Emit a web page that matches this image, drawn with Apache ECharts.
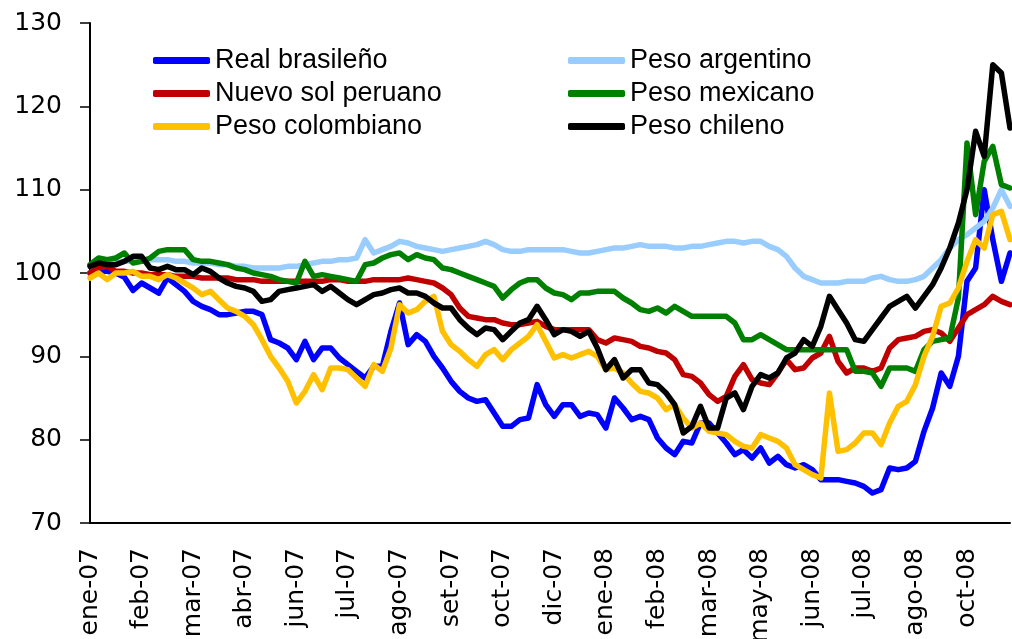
<!DOCTYPE html>
<html>
<head>
<meta charset="utf-8">
<script src="https://cdn.jsdelivr.net/npm/echarts@6/dist/echarts.min.js"></script>
<style>
html, body { margin: 0; padding: 0; background: #fff; }
#main { width: 1012px; height: 639px; }
</style>
</head>
<body>
<div id="main"></div>
<script>
// etiquetas del eje x (una cada 6 observaciones)
var monthLabels = ['ene-07', 'feb-07', 'mar-07', 'abr-07', 'jun-07', 'jul-07', 'ago-07', 'set-07', 'oct-07',
	'dic-07', 'ene-08', 'feb-08', 'mar-08', 'may-08', 'jun-08', 'jul-08', 'ago-08', 'oct-08'];
var pointsPerLabel = 6;

var realBrasileno = [
	100.0, 100.2, 100.2, 100.0, 99.5, 97.9, 98.8, 98.2, 97.6, 99.4, 98.6, 97.8, 96.6, 96.0, 95.6, 95.0, 95.0, 95.2, 95.4, 95.4,
	95.0, 92.0, 91.6, 91.0, 89.6, 91.8, 89.6, 91.0, 91.0, 89.8, 89.0, 88.2, 87.4, 88.8, 88.8, 93.0, 96.4, 91.4, 92.6, 91.8,
	90.0, 88.6, 87.0, 85.8, 85.0, 84.6, 84.8, 83.2, 81.6, 81.6, 82.4, 82.6, 86.6, 84.2, 82.8, 84.2, 84.2, 82.8, 83.2, 83.0,
	81.4, 85.0, 83.8, 82.4, 82.8, 82.4, 80.2, 79.0, 78.2, 79.8, 79.6, 82.0, 82.0, 80.8, 79.6, 78.2, 78.8, 77.8, 79.0, 77.2,
	78.0, 77.0, 76.6, 77.0, 76.4, 75.2, 75.2, 75.2, 75.0, 74.8, 74.4, 73.6, 74.0, 76.6, 76.4, 76.6, 77.4, 81.0, 83.8, 88.0,
	86.4, 90.0, 99.0, 100.6, 110.0, 104.0, 99.0, 102.4
];
var pesoArgentino = [
	100.0, 100.6, 101.0, 101.2, 101.4, 101.4, 101.6, 101.6, 101.6, 101.6, 101.4, 101.4, 101.2, 101.2, 101.2, 101.0, 101.0, 100.8, 100.8, 100.6,
	100.6, 100.6, 100.6, 100.8, 100.8, 101.0, 101.2, 101.4, 101.4, 101.6, 101.6, 101.8, 104.0, 102.4, 102.8, 103.2, 103.8, 103.6, 103.2, 103.0,
	102.8, 102.6, 102.8, 103.0, 103.2, 103.4, 103.8, 103.4, 102.8, 102.6, 102.6, 102.8, 102.8, 102.8, 102.8, 102.8, 102.6, 102.4, 102.4, 102.6,
	102.8, 103.0, 103.0, 103.2, 103.4, 103.2, 103.2, 103.2, 103.0, 103.0, 103.2, 103.2, 103.4, 103.6, 103.8, 103.8, 103.6, 103.8, 103.8, 103.2,
	102.8, 102.0, 100.6, 99.6, 99.2, 98.8, 98.8, 98.8, 99.0, 99.0, 99.0, 99.4, 99.6, 99.2, 99.0, 99.0, 99.2, 99.6, 100.6, 101.6,
	103.0, 104.0, 104.6, 105.4, 106.2, 107.8, 110.0, 108.0
];
var nuevoSol = [
	100.0, 100.6, 100.8, 100.2, 100.2, 100.0, 100.0, 99.8, 99.8, 99.8, 99.6, 99.6, 99.6, 99.4, 99.4, 99.4, 99.4, 99.2, 99.2, 99.2,
	99.0, 99.0, 99.0, 99.0, 99.0, 99.0, 99.0, 99.0, 99.2, 99.2, 99.0, 99.0, 99.0, 99.2, 99.2, 99.2, 99.2, 99.4, 99.2, 99.0,
	98.8, 98.2, 97.4, 95.8, 94.8, 94.6, 94.4, 94.4, 94.0, 93.8, 93.8, 94.0, 94.2, 93.6, 93.2, 93.2, 93.2, 93.2, 93.2, 92.0,
	91.6, 92.2, 92.0, 91.8, 91.2, 91.0, 90.6, 90.4, 89.6, 87.8, 87.6, 86.8, 85.4, 84.6, 85.2, 87.6, 89.0, 87.2, 86.8, 86.6,
	88.0, 89.6, 88.4, 88.6, 89.8, 90.4, 92.4, 89.4, 88.0, 88.6, 88.6, 88.2, 88.6, 91.0, 92.0, 92.2, 92.4, 93.0, 93.2, 92.8,
	91.8, 93.4, 95.0, 95.6, 96.2, 97.2, 96.6, 96.2
];
var pesoMexicano = [
	101.0, 101.8, 101.6, 101.8, 102.4, 101.2, 101.4, 101.8, 102.6, 102.8, 102.8, 102.8, 101.6, 101.4, 101.4, 101.2, 101.0, 100.6, 100.4, 100.0,
	99.8, 99.6, 99.2, 99.0, 98.8, 101.4, 99.6, 99.8, 99.6, 99.4, 99.2, 99.0, 101.0, 101.2, 101.8, 102.2, 102.4, 101.6, 102.2, 101.8,
	101.6, 100.6, 100.4, 100.0, 99.6, 99.2, 98.8, 98.4, 97.0, 98.0, 98.8, 99.2, 99.2, 98.2, 97.6, 97.4, 96.8, 97.6, 97.6, 97.8,
	97.8, 97.8, 97.0, 96.4, 95.6, 95.4, 95.8, 95.2, 96.0, 95.4, 94.8, 94.8, 94.8, 94.8, 94.8, 94.0, 92.0, 92.0, 92.6, 92.0,
	91.4, 90.8, 90.8, 90.8, 90.8, 90.8, 90.8, 90.8, 90.8, 88.2, 88.2, 88.0, 86.4, 88.6, 88.6, 88.6, 88.2, 90.8, 91.8, 92.0,
	92.2, 97.0, 115.6, 107.0, 113.4, 115.2, 110.6, 110.2
];
var pesoColombiano = [
	99.4, 100.0, 99.2, 100.0, 100.0, 100.2, 99.6, 99.6, 99.2, 99.8, 99.4, 98.8, 98.2, 97.4, 97.8, 96.8, 95.8, 95.4, 94.8, 93.8,
	92.0, 90.0, 88.6, 87.0, 84.4, 85.8, 87.8, 86.0, 88.6, 88.6, 88.4, 87.4, 86.4, 89.0, 88.2, 91.0, 96.2, 95.2, 95.6, 96.6,
	97.2, 93.0, 91.4, 90.6, 89.6, 88.8, 90.2, 90.8, 89.6, 90.8, 91.6, 92.4, 93.8, 91.8, 89.8, 90.2, 89.8, 90.2, 90.6, 90.0,
	88.4, 88.6, 88.0, 86.8, 85.8, 85.6, 85.0, 83.6, 84.2, 82.6, 81.4, 82.0, 81.0, 80.8, 80.6, 79.8, 79.2, 79.0, 80.6, 80.2,
	79.8, 79.0, 77.0, 76.4, 75.8, 75.4, 85.6, 78.6, 78.8, 79.6, 80.8, 80.8, 79.4, 82.0, 84.0, 84.6, 86.6, 90.0, 92.4, 96.0,
	96.4, 98.2, 101.4, 104.0, 103.0, 107.0, 107.4, 104.0
];
var pesoChileno = [
	100.8, 101.2, 101.0, 101.0, 101.4, 102.0, 102.0, 100.6, 100.4, 100.8, 100.4, 100.4, 99.8, 100.6, 100.2, 99.4, 98.8, 98.4, 98.2, 97.8,
	96.6, 96.8, 97.8, 98.0, 98.2, 98.4, 98.6, 97.8, 98.4, 97.6, 96.8, 96.2, 96.8, 97.4, 97.6, 98.0, 98.2, 97.6, 97.6, 97.2,
	96.4, 95.8, 95.8, 94.4, 93.4, 92.6, 93.4, 93.2, 92.0, 93.0, 94.0, 94.4, 96.0, 94.4, 92.6, 93.2, 93.0, 92.4, 93.0, 91.0,
	88.4, 89.6, 87.4, 88.4, 88.4, 86.8, 86.6, 85.6, 84.2, 80.8, 81.6, 84.0, 81.4, 81.4, 85.0, 85.6, 83.6, 86.4, 87.8, 87.4,
	88.0, 89.8, 90.4, 92.0, 91.2, 93.6, 97.2, 95.6, 94.0, 92.0, 91.8, 93.2, 94.6, 96.0, 96.6, 97.2, 95.8, 97.2, 98.6, 100.6,
	103.0, 106.0, 110.0, 117.0, 114.0, 125.0, 124.0, 117.4
];

var seriesNames = ['Real brasileño', 'Peso argentino', 'Nuevo sol peruano', 'Peso mexicano', 'Peso colombiano', 'Peso chileno'];
var seriesColors = ['#0000ff', '#99ccff', '#c00000', '#008000', '#ffc000', '#000000'];
var seriesData = [realBrasileno, pesoArgentino, nuevoSol, pesoMexicano, pesoColombiano, pesoChileno];

var categories = [];
for (var i = 0; i < realBrasileno.length; i++) {
	categories.push(String(i));
}

var chart = echarts.init(document.getElementById('main'));

var legendText = {
	color: '#000',
	fontSize: 27,
	fontFamily: 'Liberation Sans, Arial, sans-serif'
};

var series = [];
for (var s = 0; s < seriesNames.length; s++) {
	series.push({
		name: seriesNames[s],
		type: 'line',
		data: seriesData[s],
		color: seriesColors[s],
		showSymbol: false,
		symbol: 'none',
		lineStyle: { width: 5.5, color: seriesColors[s], join: 'round', cap: 'round' },
		z: 2 + s
	});
}

var option = {
	animation: false,
	backgroundColor: '#fff',
	grid: {
		left: 90,
		right: 2,
		top: 23,
		bottom: 116,
		outerBoundsMode: 'none'
	},
	legend: [{
		orient: 'vertical',
		left: 148,
		top: 42,
		itemWidth: 57,
		itemHeight: 7,
		itemGap: 6,
		icon: 'roundRect',
		data: ['Real brasileño', 'Nuevo sol peruano', 'Peso colombiano'],
		textStyle: legendText
	}, {
		orient: 'vertical',
		left: 563,
		top: 42,
		itemWidth: 57,
		itemHeight: 7,
		itemGap: 6,
		icon: 'roundRect',
		data: ['Peso argentino', 'Peso mexicano', 'Peso chileno'],
		textStyle: legendText
	}],
	xAxis: {
		type: 'category',
		data: categories,
		boundaryGap: false,
		axisLine: { lineStyle: { color: '#000', width: 2 } },
		axisTick: { show: false },
		splitLine: { show: false },
		axisLabel: {
			interval: pointsPerLabel - 1,
			rotate: 90,
			margin: 25,
			color: '#000',
			fontSize: 25,
			fontFamily: 'DejaVu Sans, sans-serif',
			formatter: function(value, idx) {
				return monthLabels[idx / pointsPerLabel] || '';
			}
		}
	},
	yAxis: {
		type: 'value',
		min: 70,
		max: 130,
		interval: 10,
		axisLine: { show: true, lineStyle: { color: '#000', width: 2 } },
		axisTick: { show: true, length: 10, lineStyle: { color: '#000', width: 1.5 } },
		splitLine: { show: false },
		axisLabel: {
			margin: 28,
			color: '#000',
			fontSize: 25,
			fontFamily: 'DejaVu Sans, sans-serif'
		}
	},
	series: series
};

chart.setOption(option);
</script>
</body>
</html>
